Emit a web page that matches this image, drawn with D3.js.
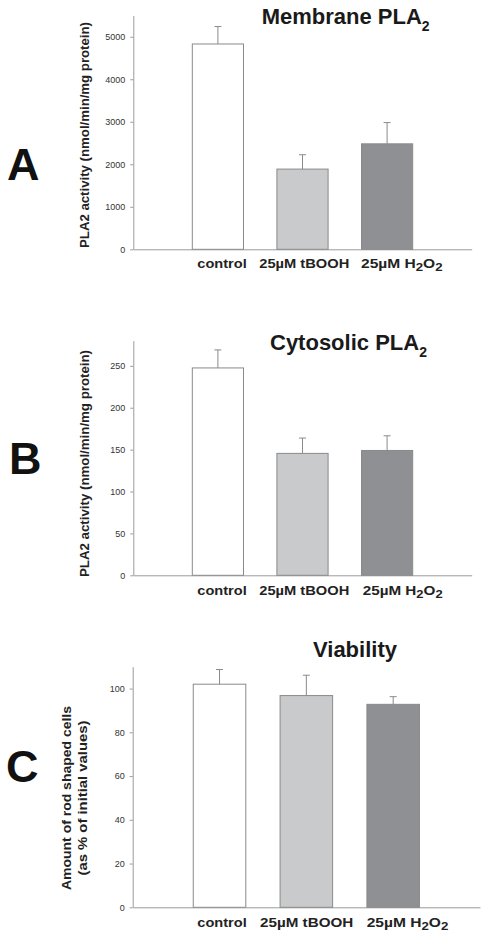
<!DOCTYPE html>
<html>
<head>
<meta charset="utf-8">
<script src="https://cdn.jsdelivr.net/npm/d3@7"></script>
<style>
  html, body { margin: 0; padding: 0; background: #fff; }
  svg { display: block; font-family: "Liberation Sans", Arial, Helvetica, sans-serif; }
</style>
</head>
<body>
<svg id="chart" width="487" height="940"></svg>
<script>
// ---------------- data ----------------
const categories = ["control", "25µM tBOOH", "25µM H2O2"];

const membraneMean = [4830, 1887, 2481];
const membraneErr  = [410, 337, 500];
const membraneTicks = [0, 1000, 2000, 3000, 4000, 5000];

const cytosolicMean = [247.5, 145.5, 149];
const cytosolicErr  = [21.5, 18.3, 17.5];
const cytosolicTicks = [0, 50, 100, 150, 200, 250];

const viabilityMean = [102, 96.8, 92.8];
const viabilityErr  = [6.7, 9.3, 3.5];
const viabilityTicks = [0, 20, 40, 60, 80, 100];

const panelLetters = ["A", "B", "C"];
const panelTitles = [["Membrane PLA", "2"], ["Cytosolic PLA", "2"], ["Viability", ""]];
const yLabels = [
  ["PLA2 activity (nmol/min/mg protein)"],
  ["PLA2 activity (nmol/min/mg protein)"],
  ["Amount of rod shaped cells", "(as % of initial values)"]
];

// ---------------- styles / layout ----------------
const barFills = ["#ffffff", "#c9cacc", "#8f9094"];
const barStroke = "#8a8a8a";
const axisColor = "#9a9a9a";

const layouts = [
  { mean: membraneMean, err: membraneErr, ticks: membraneTicks, yMax: 5500,
    x0: 133.3, x1: 471.7, y0: 249.3, yTop: 15.5,
    titleX: 261.7, titleY: 23.5, letterX: 7, letterY: 180,
    yLabX: [89], yLabLen: [226], yLabCY: 135, catY: 268,
    catStart: 197.3, catW: [49.4, 90, 81.6], catGap: [12.6, 11.7] },
  { mean: cytosolicMean, err: cytosolicErr, ticks: cytosolicTicks, yMax: 280,
    x0: 133.3, x1: 471.7, y0: 575.3, yTop: 340.7,
    titleX: 270, titleY: 350, letterX: 9, letterY: 474,
    yLabX: [88.5], yLabLen: [227], yLabCY: 463.5, catY: 595,
    catStart: 197.3, catW: [49.4, 90, 80], catGap: [12.6, 13.4] },
  { mean: viabilityMean, err: viabilityErr, ticks: viabilityTicks, yMax: 110,
    x0: 132.7, x1: 480, y0: 907.3, yTop: 666.7,
    titleX: 313, titleY: 657, letterX: 6, letterY: 781.7,
    yLabX: [70.5, 87], yLabLen: [184, 155], yLabCY: 798, catY: 926.5,
    catStart: 197.3, catW: [49.4, 93.3, 81.6], catGap: [13.3, 13.4] }
];

const svg = d3.select("#chart");

function addLabelText(sel, label) {
  // render "H2O2" with subscripts
  const m = label.match(/^(.*)H2O2$/);
  if (m) {
    sel.append("tspan").text(m[1] + "H");
    sel.append("tspan").attr("font-size", "0.85em").attr("dy", 3).text("2");
    sel.append("tspan").attr("dy", -3).text("O");
    sel.append("tspan").attr("font-size", "0.85em").attr("dy", 3).text("2");
  } else {
    sel.text(label);
  }
}

layouts.forEach((L, p) => {
  const g = svg.append("g");
  const n = categories.length;

  const x = d3.scaleLinear().domain([0, n + 1]).range([L.x0, L.x1]);
  const y = d3.scaleLinear().domain([0, L.yMax]).range([L.y0, L.yTop]);
  const step = x(1) - x(0);
  const bw = step * 0.605;

  // y axis
  const yAxis = d3.axisLeft(y).tickValues(L.ticks).tickSize(3).tickSizeOuter(0).tickPadding(5)
    .tickFormat(d3.format("d"));
  const ya = g.append("g").attr("transform", `translate(${L.x0},0)`).call(yAxis);
  ya.select(".domain").attr("stroke", axisColor);
  ya.selectAll(".tick line").attr("stroke", axisColor);
  ya.selectAll(".tick text").attr("fill", "#333").attr("font-size", 9)
    .attr("font-family", "Liberation Sans, Arial, sans-serif");

  // x axis (baseline only)
  const xAxis = d3.axisBottom(x).tickValues([]).tickSizeOuter(0);
  const xa = g.append("g").attr("transform", `translate(0,${L.y0})`).call(xAxis);
  xa.select(".domain").attr("stroke", axisColor);

  // bars
  g.selectAll("rect.bar").data(L.mean).enter().append("rect")
    .attr("class", "bar")
    .attr("x", (d, i) => x(i + 1) - bw / 2)
    .attr("y", d => y(d))
    .attr("width", bw)
    .attr("height", d => L.y0 - y(d))
    .attr("fill", (d, i) => barFills[i])
    .attr("stroke", barStroke)
    .attr("stroke-width", 1);

  // error bars (upper only)
  L.mean.forEach((m, i) => {
    const cx = x(i + 1);
    g.append("line").attr("x1", cx).attr("x2", cx)
      .attr("y1", y(m)).attr("y2", y(m + L.err[i]))
      .attr("stroke", barStroke).attr("stroke-width", 1);
    g.append("line").attr("x1", cx - 3.5).attr("x2", cx + 3.5)
      .attr("y1", y(m + L.err[i])).attr("y2", y(m + L.err[i]))
      .attr("stroke", barStroke).attr("stroke-width", 1);
  });

  // category labels
  let cx = L.catStart;
  categories.forEach((c, i) => {
    const t = g.append("text")
      .attr("x", cx).attr("y", L.catY)
      .attr("font-size", 13).attr("font-weight", "bold").attr("fill", "#222")
      .attr("textLength", L.catW[i]).attr("lengthAdjust", "spacingAndGlyphs");
    addLabelText(t, c);
    cx += L.catW[i] + (L.catGap[i] || 0);
  });

  // title
  const tt = g.append("text").attr("x", L.titleX).attr("y", L.titleY)
    .attr("font-size", 22).attr("font-weight", "bold").attr("fill", "#1a1a1a");
  tt.append("tspan").text(panelTitles[p][0]);
  if (panelTitles[p][1]) tt.append("tspan").attr("font-size", 14).attr("dy", 7).text(panelTitles[p][1]);

  // panel letter
  g.append("text").attr("x", L.letterX).attr("y", L.letterY)
    .attr("font-size", 45).attr("font-weight", "bold").attr("fill", "#111")
    .text(panelLetters[p]);

  // y label(s)
  yLabels[p].forEach((lab, k) => {
    g.append("text")
      .attr("transform", `translate(${L.yLabX[k]},${L.yLabCY}) rotate(-90)`)
      .attr("text-anchor", "middle")
      .attr("font-size", 13).attr("font-weight", "bold").attr("fill", "#222")
      .attr("textLength", L.yLabLen[k]).attr("lengthAdjust", "spacingAndGlyphs")
      .text(lab);
  });
});
</script>
</body>
</html>
